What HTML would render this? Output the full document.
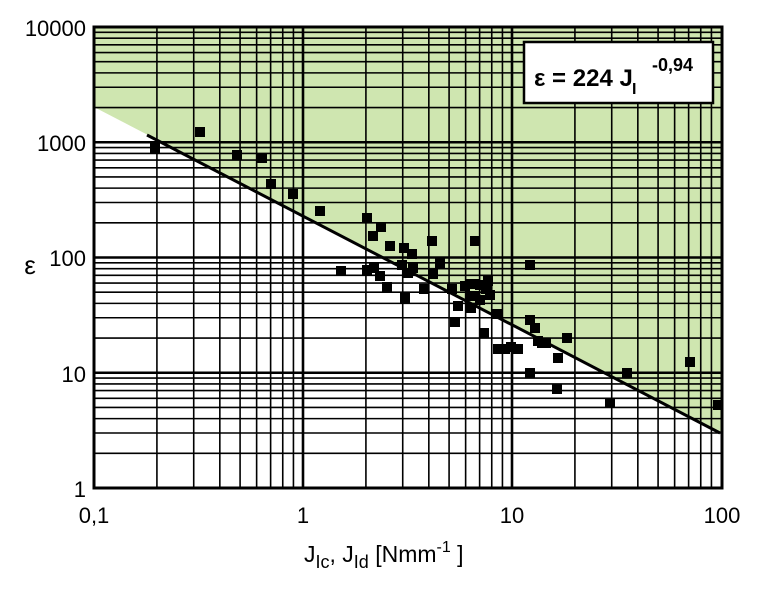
<!DOCTYPE html>
<html><head><meta charset="utf-8"><style>
body{margin:0;background:#fff;}
svg{display:block;font-family:"Liberation Sans",Arial,sans-serif;}
</style></head><body>
<svg id="s" width="757" height="600" viewBox="0 0 757 600">
<rect x="0" y="0" width="757" height="600" fill="#fff"/>
<polygon points="94,27 722,27 722,433 94,107" fill="#cfe6b0"/>
<g id="grid" stroke="#000" stroke-width="1.6"></g>
<rect x="94" y="27" width="628" height="461" fill="none" stroke="#000" stroke-width="3"/>
<line x1="147" y1="135" x2="720" y2="433" stroke="#000" stroke-width="3"/>
<g id="pts" fill="#000"></g>
<rect x="524" y="42" width="189" height="61" fill="#fff" stroke="#000" stroke-width="2.5"/>
<text x="534" y="86" font-size="24" font-weight="bold">ε = 224 J</text>
<text x="632" y="94" font-size="16" font-weight="bold">I</text>
<text x="652" y="71" font-size="18" font-weight="bold">-0,94</text>
<g font-size="22" text-anchor="end">
<text x="86" y="36">10000</text>
<text x="86" y="151">1000</text>
<text x="86" y="266">100</text>
<text x="86" y="382">10</text>
<text x="86" y="497">1</text>
</g>
<g font-size="22" text-anchor="middle">
<text x="94" y="523">0,1</text>
<text x="303" y="523">1</text>
<text x="512" y="523">10</text>
<text x="722" y="523">100</text>
</g>
<text x="30" y="274" font-size="26" text-anchor="middle">ε</text>
<text x="304" y="562" font-size="23">J<tspan font-size="18" dy="6">Ic</tspan><tspan dy="-6">, J</tspan><tspan font-size="18" dy="6">Id</tspan><tspan dy="-6"> [Nmm</tspan><tspan font-size="16" dy="-10">-1</tspan><tspan dy="10"> ]</tspan></text>
</svg>
<script>
var ns="http://www.w3.org/2000/svg",g=document.getElementById("grid");
function L(x1,y1,x2,y2,w){var l=document.createElementNS(ns,"line");l.setAttribute("x1",x1);l.setAttribute("y1",y1);l.setAttribute("x2",x2);l.setAttribute("y2",y2);if(w)l.setAttribute("stroke-width",w);g.appendChild(l);}
for(var d=0;d<3;d++)for(var m=1;m<10;m++){var x=94+209*(d+Math.log10(m));L(x,27,x,488,m==1?2.6:null);}
for(var d=0;d<4;d++)for(var m=1;m<10;m++){var y=488-115.25*(d+Math.log10(m));L(94,y,722,y,m==1?2.6:null);}
var P=[[155,148],[200,132],[237,155],[262,158],[271,184],[293,194],[320,211],[367,218],[373,236],[381,227],[390,246],[404,248],[412,254],[413,268],[341,271],[367,270],[374,268],[380,276],[387,287],[402,265],[408,273],[405,298],[424,289],[432,241],[433,274],[440,263],[452,289],[455,322],[458,306],[465,286],[470,284],[475,284],[471,308],[475,296],[475,241],[480,285],[488,281],[486,289],[484,333],[490,295],[497,314],[498,349],[505,349],[511,347],[518,349],[530,265],[530,320],[535,328],[538,341],[542,343],[546,343],[530,373],[557,389],[567,338],[558,358],[610,403],[627,373],[690,362],[718,405],[480,300],[470,296]];
var pg=document.getElementById("pts");
P.forEach(function(p){var r=document.createElementNS(ns,"rect");r.setAttribute("x",p[0]-5);r.setAttribute("y",p[1]-5);r.setAttribute("width",10);r.setAttribute("height",10);pg.appendChild(r);});
</script>
</body></html>
